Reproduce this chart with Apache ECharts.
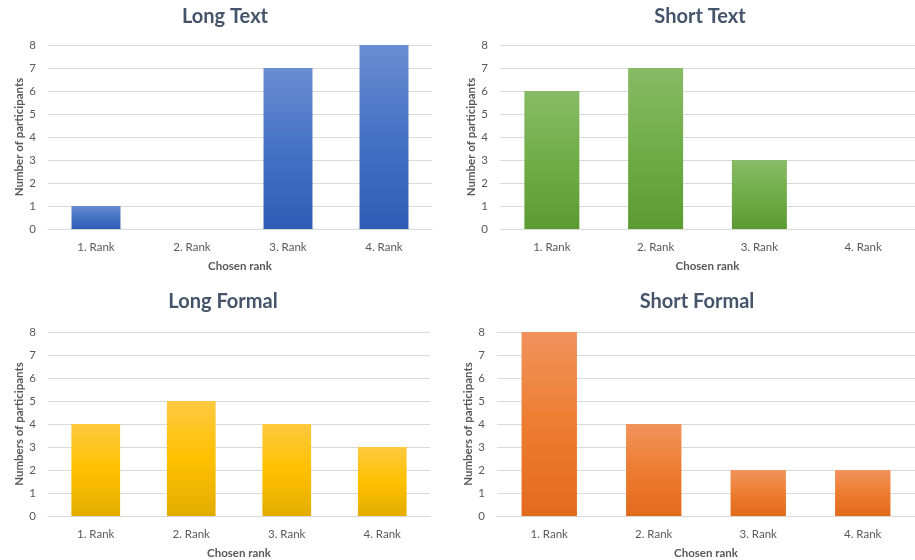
<!DOCTYPE html>
<html>
<head>
<meta charset="utf-8">
<script src="https://cdn.jsdelivr.net/npm/echarts@6/dist/echarts.min.js"></script>
<style>
  html, body { margin: 0; padding: 0; background: #ffffff; }
  #chart { width: 915px; height: 560px; }
</style>
</head>
<body>
<div id="chart"></div>
<script>
// Ranking results per text variant
const ranks = ['1. Rank', '2. Rank', '3. Rank', '4. Rank'];
const longText = [1, 0, 7, 8];
const shortText = [6, 7, 3, 0];
const longFormal = [4, 5, 4, 3];
const shortFormal = [8, 4, 2, 2];
const titles = ['Long Text', 'Short Text', 'Long Formal', 'Short Formal'];
const yNames = ['Number of participants', 'Number of participants', 'Numbers of participants', 'Numbers of participants'];
const xName = 'Chosen rank';
const yTicks = { min: 0, max: 8, interval: 1 };

const FONT = 'Lato, "Open Sans", sans-serif';
const panels = [
  { data: longText, grid: { left: 48, top: 45, width: 384, height: 184 }, title: { x: 220, y: 2 },
    colors: ['#6a8dd3', '#4472c4', '#2f5db5'], barWidth: '51%' },
  { data: shortText, grid: { left: 500, top: 45, width: 415, height: 184 }, title: { x: 695, y: 2 },
    colors: ['#88bb66', '#70ad47', '#5c9a32'], barWidth: '53%' },
  { data: longFormal, grid: { left: 48, top: 332, width: 382, height: 185 }, title: { x: 218, y: 287 },
    colors: ['#ffc940', '#ffc000', '#e3ad00'], barWidth: '51%' },
  { data: shortFormal, grid: { left: 497, top: 332, width: 418, height: 184 }, title: { x: 692, y: 287 },
    colors: ['#f1925c', '#ed7d31', '#e26a1c'], barWidth: '53%' }
];

const option = {
  backgroundColor: '#ffffff',
  animation: false,
  title: panels.map((p, i) => ({
    text: titles[i],
    left: p.title.x,
    top: p.title.y,
    textAlign: 'center',
    textStyle: { fontFamily: FONT, fontSize: 20, fontWeight: 'bold', color: '#44546a' }
  })),
  grid: panels.map(p => Object.assign({ containLabel: false }, p.grid)),
  xAxis: panels.map((p, i) => ({
    type: 'category',
    gridIndex: i,
    data: ranks,
    name: xName,
    nameLocation: 'middle',
    nameGap: 31,
    nameTextStyle: { fontFamily: FONT, fontSize: 11.5, fontWeight: 'bold', color: '#595959' },
    axisLine: { show: true, lineStyle: { color: '#d9d9d9', width: 1 } },
    axisTick: { show: false },
    axisLabel: { fontFamily: FONT, fontSize: 11.5, color: '#595959', margin: 12 }
  })),
  yAxis: panels.map((p, i) => ({
    type: 'value',
    gridIndex: i,
    min: yTicks.min,
    max: yTicks.max,
    interval: yTicks.interval,
    name: yNames[i],
    nameLocation: 'middle',
    nameGap: 23,
    nameRotate: 90,
    nameTextStyle: { fontFamily: FONT, fontSize: 11.5, fontWeight: 'bold', color: '#595959' },
    axisLine: { show: false },
    axisTick: { show: false },
    splitLine: { show: true, lineStyle: { color: '#d9d9d9', width: 1 } },
    axisLabel: { fontFamily: FONT, fontSize: 11.5, color: '#595959', margin: 12 }
  })),
  series: panels.map((p, i) => ({
    type: 'bar',
    xAxisIndex: i,
    yAxisIndex: i,
    data: p.data,
    barWidth: p.barWidth,
    // each bar runs from a lighter top to a darker base
    itemStyle: {
      color: new echarts.graphic.LinearGradient(0, 0, 0, 1, [
        { offset: 0, color: p.colors[0] },
        { offset: 0.5, color: p.colors[1] },
        { offset: 1, color: p.colors[2] }
      ])
    }
  }))
};

const chart = echarts.init(document.getElementById('chart'), null, { renderer: 'canvas' });
chart.setOption(option);
</script>
</body>
</html>
